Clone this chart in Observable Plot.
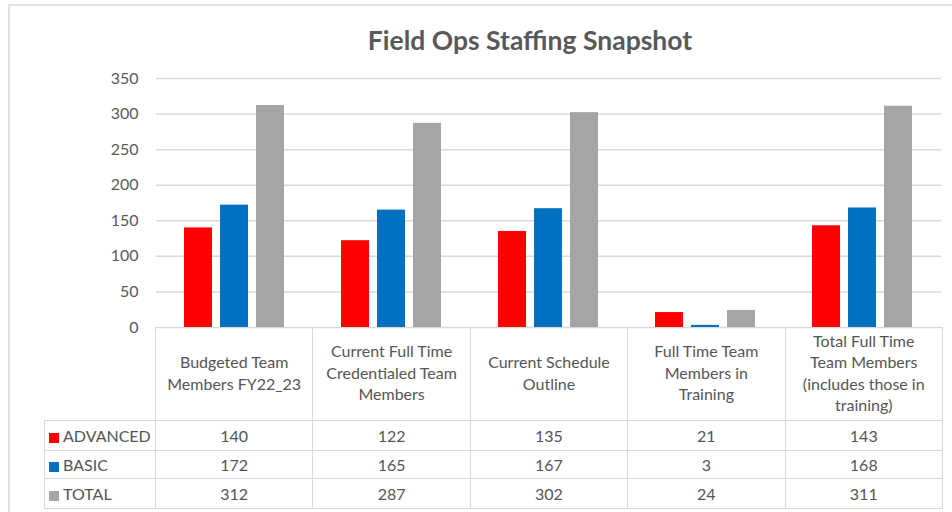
<!DOCTYPE html>
<html>
<head>
<meta charset="utf-8">
<script src="https://cdn.jsdelivr.net/npm/d3@7"></script>
<script src="https://cdn.jsdelivr.net/npm/@observablehq/plot@0.6"></script>
<style>
  html, body { margin: 0; padding: 0; background: #fff; }
  #wrap { position: relative; width: 952px; height: 512px; overflow: hidden; font-family: Lato, "Open Sans", sans-serif; color: #595959; }
  #frame { position: absolute; left: 8px; top: 4px; width: 1100px; height: 700px; border: 2px solid #e0e0e0; box-sizing: border-box; }
  #title { position: absolute; left: 0; top: 24px; width: 1060px; text-align: center; font-size: 26.5px; font-weight: 700; color: #595959; }
  #plot { position: absolute; left: 0; top: 60px; }
  #plot svg { overflow: visible; }
  #tbl { position: absolute; left: 44px; top: 327px; border-collapse: collapse; table-layout: fixed; font-size: 16px; color: #555; }
  #tbl td, #tbl th { border: 1px solid #d9d9d9; padding: 0; text-align: center; font-weight: 400; }
  #tbl th.cat { white-space: pre-line; line-height: 21.5px; height: 89px; padding-bottom: 3px; vertical-align: middle; }
  #tbl th.corner { border-top: none; border-left: none; }
  #tbl td.lab { text-align: left; padding-left: 4px; white-space: nowrap; }
  #tbl td.lab span.key { display: inline-block; width: 10px; height: 10px; margin-right: 4px; vertical-align: -1px; }
</style>
</head>
<body>
<div id="wrap">
  <div id="frame"></div>
  <div id="title">Field Ops Staffing Snapshot</div>
  <div id="plot"></div>
  <table id="tbl"></table>
</div>
<script>
const categories = [
  "Budgeted Team\nMembers FY22_23",
  "Current Full Time\nCredentialed Team\nMembers",
  "Current Schedule\nOutline",
  "Full Time Team\nMembers in\nTraining",
  "Total Full Time\nTeam Members\n(includes those in\ntraining)"
];
const seriesNames = ["ADVANCED", "BASIC", "TOTAL"];
const seriesColors = ["#FF0000", "#0070C0", "#A5A5A5"];
const advanced = [140, 122, 135, 21, 143];
const basic = [172, 165, 167, 3, 168];
const total = [312, 287, 302, 24, 311];
const yTicks = [0, 50, 100, 150, 200, 250, 300, 350];

const seriesValues = [advanced, basic, total];
const data = [];
categories.forEach((c, i) => {
  seriesNames.forEach((s, j) => data.push({category: c, series: s, value: seriesValues[j][i]}));
});

const marginLeft = 155, marginRight = 10, width = 952;

const chart = Plot.plot({
  width,
  height: 267,
  marginTop: 18,
  marginBottom: 0,
  marginLeft,
  marginRight,
  style: { fontFamily: "Lato, 'Open Sans', sans-serif", fontSize: "16px", color: "#595959", background: "transparent", overflow: "visible" },
  fx: { domain: categories, padding: 0, axis: null },
  x: { domain: seriesNames, paddingInner: 0.22, paddingOuter: 0.78, axis: null },
  y: { domain: [0, 350], ticks: yTicks, tickSize: 0, tickPadding: 18, label: null, tickFormat: d => String(d) },
  color: { domain: seriesNames, range: seriesColors },
  marks: [
    Plot.gridY(yTicks, { stroke: "#d9d9d9", strokeOpacity: 1, strokeWidth: 1.5 }),
    Plot.axisY(yTicks, { tickSize: 0, tickPadding: 18, fontSize: 16, fill: "#595959", label: null }),
    Plot.barY(data, { fx: "category", x: "series", y: "value", fill: "series" })
  ]
});
document.getElementById("plot").appendChild(chart);

// Data table below the plot, aligned with the fx bands
const tbl = document.getElementById("tbl");
const bandW = (width - marginLeft - marginRight) / categories.length;
const colgroup = document.createElement("colgroup");
const c0 = document.createElement("col"); c0.style.width = (marginLeft - 44) + "px"; colgroup.appendChild(c0);
categories.forEach(() => { const c = document.createElement("col"); c.style.width = bandW + "px"; colgroup.appendChild(c); });
tbl.appendChild(colgroup);
tbl.style.width = (width - marginRight - 44) + "px";

const hr = document.createElement("tr");
const corner = document.createElement("th"); corner.className = "corner"; hr.appendChild(corner);
categories.forEach(c => { const th = document.createElement("th"); th.className = "cat"; th.textContent = c; hr.appendChild(th); });
tbl.appendChild(hr);

const rowH = [30, 28, 30];
seriesNames.forEach((s, j) => {
  const tr = document.createElement("tr");
  tr.style.height = rowH[j] + "px";
  const lab = document.createElement("td"); lab.className = "lab";
  const key = document.createElement("span"); key.className = "key"; key.style.background = seriesColors[j];
  lab.appendChild(key); lab.appendChild(document.createTextNode(s));
  tr.appendChild(lab);
  seriesValues[j].forEach(v => { const td = document.createElement("td"); td.textContent = v; tr.appendChild(td); });
  tbl.appendChild(tr);
});
</script>
</body>
</html>
